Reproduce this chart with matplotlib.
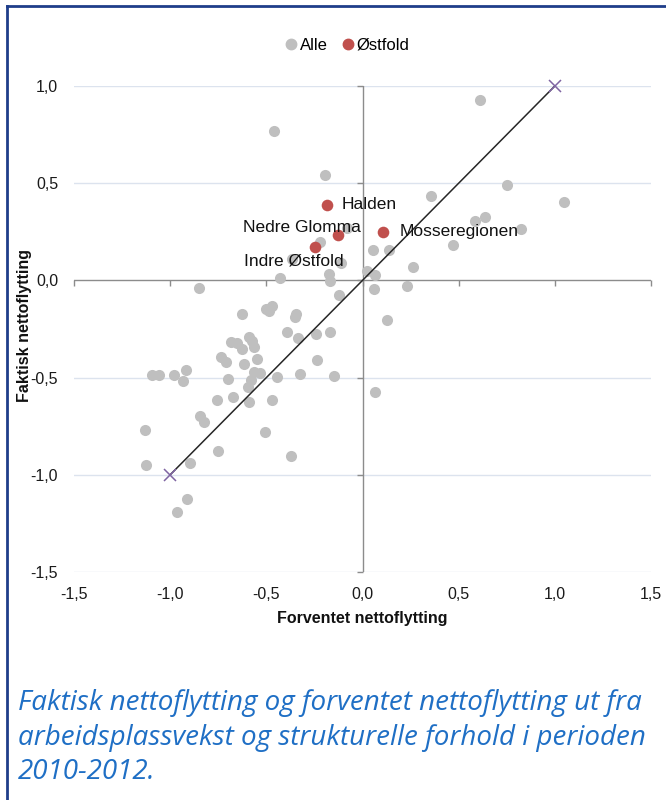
import matplotlib
matplotlib.use('Agg')
import matplotlib.pyplot as plt
from matplotlib.lines import Line2D

# ---------------- data ----------------
alle_x = [-0.459, -0.194, -0.078, -0.220, -0.364, -0.113, -0.175, -0.171, -0.428, -0.849,
          -0.123, 0.609, 0.751, 0.357, 1.046, 0.587, 0.635, 0.824, 0.469, 0.057,
          0.137, 0.263, 0.022, 0.066, 0.062, 0.232, 0.128, -0.627, -0.504, -0.473,
          -0.485, -0.345, -0.353, -0.390, -0.336, -0.243, -0.170, -0.591, -0.577, -0.686,
          -0.655, -0.627, -0.566, -0.735, -0.712, -0.617, -0.549, -0.237, -1.095, -1.057,
          -0.980, -0.916, -0.932, -0.701, -0.566, -0.534, -0.580, -0.594, -0.447, -0.326,
          -0.148, 0.067, -0.672, -0.755, -0.592, -0.471, -0.844, -0.823, -1.131, -0.508,
          -0.752, -0.372, -1.127, -0.896, -0.914, -0.963]
alle_y = [0.770, 0.542, 0.272, 0.199, 0.112, 0.089, 0.033, -0.005, 0.012, -0.039,
          -0.077, 0.929, 0.492, 0.434, 0.403, 0.307, 0.326, 0.266, 0.184, 0.156,
          0.154, 0.070, 0.050, 0.028, -0.044, -0.027, -0.205, -0.173, -0.149, -0.130,
          -0.159, -0.173, -0.190, -0.267, -0.298, -0.276, -0.265, -0.291, -0.310, -0.317,
          -0.322, -0.353, -0.344, -0.394, -0.420, -0.430, -0.404, -0.409, -0.488, -0.488,
          -0.488, -0.463, -0.516, -0.505, -0.471, -0.475, -0.511, -0.550, -0.495, -0.483,
          -0.492, -0.572, -0.600, -0.617, -0.627, -0.613, -0.696, -0.730, -0.771, -0.780,
          -0.879, -0.901, -0.948, -0.937, -1.124, -1.193]

ostfold_names = ['Halden', 'Nedre Glomma', 'Indre Østfold', 'Mosseregionen']
ostfold_x = [-0.184, -0.128, -0.248, 0.109]
ostfold_y = [0.388, 0.231, 0.170, 0.249]

diag_x = [-1.0, 1.0]
diag_y = [-1.0, 1.0]

xticks = [-1.5, -1.0, -0.5, 0.0, 0.5, 1.0, 1.5]
xticklabels = ['-1,5', '-1,0', '-0,5', '0,0', '0,5', '1,0', '1,5']
yticks = [-1.5, -1.0, -0.5, 0.0, 0.5, 1.0]
yticklabels = ['-1,5', '-1,0', '-0,5', '0,0', '0,5', '1,0']

legend_labels = ['Alle', 'Østfold']
xlabel = 'Forventet nettoflytting'
ylabel = 'Faktisk nettoflytting'
caption_lines = ['Faktisk nettoflytting og forventet nettoflytting ut fra',
                 'arbeidsplassvekst og strukturelle forhold i perioden',
                 '2010-2012.']

# ---------------- style ----------------
plt.rcParams['font.family'] = ['Liberation Sans', 'DejaVu Sans']
GRAY = '#bfbfbf'
RED = '#c0504d'
AXC = '#8c8c8c'
W, H = 666, 800

fig = plt.figure(figsize=(W / 100, H / 100), dpi=100)
ax = fig.add_axes([74 / W, 1 - 572 / H, 577 / W, 486 / H])
ax.set_xlim(-1.5, 1.5)
ax.set_ylim(-1.5, 1.0)
for s in ax.spines.values():
    s.set_visible(False)
ax.set_xticks(xticks)
ax.set_xticklabels(xticklabels)
ax.set_yticks(yticks)
ax.set_yticklabels(yticklabels)
ax.tick_params(length=0, labelsize=11.5, colors='#1a1a1a')
ax.tick_params(axis='y', pad=11.5)
ax.tick_params(axis='x', pad=11)

for yv in yticks:
    if yv != 0:
        ax.axhline(yv, color='#dce3ee', lw=1, zorder=0)
ax.axhline(0, color=AXC, lw=1, zorder=1)
ax.axvline(0, color=AXC, lw=1, zorder=1)
ax.plot(xticks, [0] * len(xticks), ls='none', marker=3, ms=4, mew=1,
        color=AXC, clip_on=False, zorder=1)
ax.plot([0] * len(yticks), yticks, ls='none', marker=0, ms=4, mew=1,
        color=AXC, clip_on=False, zorder=1)

ax.scatter(alle_x, alle_y, s=64, color=GRAY, linewidths=0, zorder=3)
ax.scatter(ostfold_x, ostfold_y, s=70, color=RED, linewidths=0, zorder=4)
ax.plot(diag_x, diag_y, color='#262626', lw=1.1, zorder=5)
ax.plot(diag_x, diag_y, ls='none', marker='x', ms=9, mew=1.1,
        color='#7f64a2', zorder=6, clip_on=False)

offsets = {'Halden': ((10.8, 0), 'left'),
           'Nedre Glomma': ((16.5, 5.8), 'right'),
           'Indre Østfold': ((-15, -10), 'center'),
           'Mosseregionen': ((11.5, 0), 'left')}
for n, x, y in zip(ostfold_names, ostfold_x, ostfold_y):
    off, ha = offsets[n]
    ax.annotate(n, (x, y), xytext=off, textcoords='offset points', ha=ha,
                va='center', fontsize=12.5, color='#111111', zorder=7)

handles = [Line2D([], [], marker='o', ls='none', color=GRAY, ms=7.5),
           Line2D([], [], marker='o', ls='none', color=RED, ms=7.5)]
fig.legend(handles, legend_labels, loc='center', bbox_to_anchor=(346 / W, 1 - 45 / H),
           ncol=2, frameon=False, handletextpad=0.05, columnspacing=0.7,
           handlelength=1.0, fontsize=12)

fig.text(25 / W, 1 - 325 / H, ylabel, rotation=90, ha='center', va='center',
         fontweight='bold', fontsize=11.5, color='#111111')
fig.text(362 / W, 1 - 618 / H, xlabel, ha='center', va='center',
         fontweight='bold', fontsize=11.5, color='#111111')

for line, yb in zip(caption_lines, [710, 745, 779]):
    fig.text(18 / W, 1 - yb / H, line, ha='left', va='baseline', fontsize=20,
             family=['Open Sans', 'DejaVu Sans'], style='italic', color='#1f6fc5')

BORDER = '#1f3d8a'
fig.add_artist(Line2D([7 / W, 7 / W], [0, 1 - 6 / H], transform=fig.transFigure,
                      color=BORDER, lw=2))
fig.add_artist(Line2D([7 / W, 1], [1 - 6 / H, 1 - 6 / H], transform=fig.transFigure,
                      color=BORDER, lw=2))

fig.savefig('out.png', dpi=100)
